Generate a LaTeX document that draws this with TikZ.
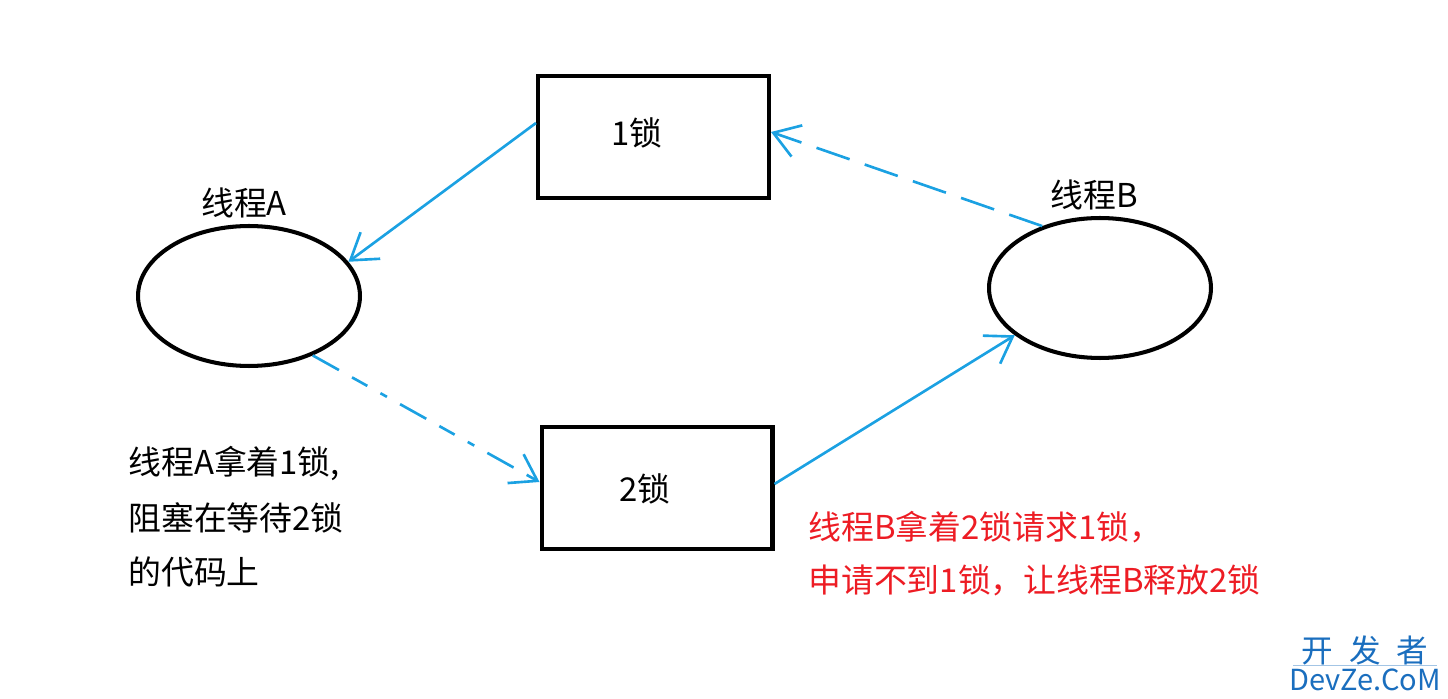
\documentclass[tikz,border=0pt]{standalone}
\usepackage{fontspec}
\setmainfont{Noto Sans CJK SC}
\usetikzlibrary{arrows.meta,shapes.geometric}
\definecolor{arrowblue}{RGB}{27,161,226}
\definecolor{txtred}{RGB}{237,28,36}
\definecolor{wmblue}{RGB}{26,110,190}
\tikzset{
  lockbox/.style={draw=black,line width=2.3pt,minimum width=4.62cm,minimum height=2.44cm,inner sep=0pt},
  thread/.style={draw=black,ellipse,line width=2.3pt,minimum width=4.44cm,minimum height=2.8cm,inner sep=0pt},
  lbl/.style={font=\fontsize{18.7pt}{22pt}\selectfont,inner sep=0pt},
  flow/.style={draw=arrowblue,line width=1.5pt,-{Straight Barb[length=0.5cm,width=0.66cm,line width=1.5pt]}},
  dashflow/.style={flow,dash pattern=on 0.7cm off 0.32cm},
  dashdotflow/.style={flow,dash pattern=on 0.6cm off 0.3cm on 0.35cm off 0.3cm on 0.15cm off 0.3cm},
  note/.style={lbl,anchor=west,align=left}
}
\begin{document}
\begin{tikzpicture}[x=0.02cm,y=-0.02cm]
\useasboundingbox (0,0) rectangle (1448,699);
\node[lockbox] (L1) at (653.5,137) {};
\node[lockbox] (L2) at (657,488) {};
\node[thread] (A) at (249,296) {};
\node[thread] (B) at (1100,288) {};
\node[lbl] (t1) at (637,133) {1锁};
\node[lbl] (t2) at (645,489) {2锁};
\node[lbl] (la) at (244,203) {线程A};
\node[lbl] (lb) at (1094,195) {线程B};
\node[note] (n1) at (128,463) {线程A拿着1锁,};
\node[note] (n2) at (128,518) {阻塞在等待2锁};
\node[note] (n3) at (128,572) {的代码上};
\node[note,text=txtred] (r1) at (808,527) {线程B拿着2锁请求1锁，};
\node[note,text=txtred] (r2) at (808,580) {申请不到1锁，让线程B释放2锁};
\draw[flow] ([yshift=0.28cm]L1.west) -- (A.19);
\draw[dashflow] (B.133) -- ([yshift=0.1cm]L1.east);
\draw[dashdotflow] (A.-43.6) -- ([yshift=0.12cm]L2.west);
\draw[flow] ([yshift=0.08cm]L2.east) -- (B.209.5);
\node[font=\fontsize{18pt}{20pt}\selectfont,text=wmblue,inner sep=0pt] (wm1) at (1365,650) {开\hspace{0.5em}发\hspace{0.5em}者};
\coordinate (wl) at (1293,665);
\coordinate (wr) at (1437,665);
\draw[wmblue!40,line width=0.5pt] (wl) -- (wr);
\node[font=\fontsize{16.5pt}{18pt}\selectfont,text=wmblue,inner sep=0pt] (wm2) at (1365,680) {DevZe.CoM};
\end{tikzpicture}
\end{document}
